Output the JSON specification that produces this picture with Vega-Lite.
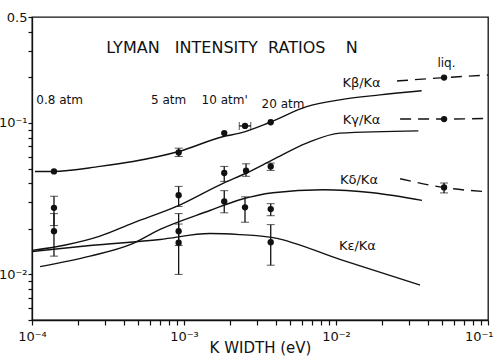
{
  "$schema": "https://vega.github.io/schema/vega-lite/v6.json",
  "width": 456,
  "height": 303,
  "autosize": "none",
  "padding": {"left": 32, "top": 17, "right": 5, "bottom": 44},
  "background": "white",
  "config": {
    "view": {"stroke": "#111", "strokeWidth": 1.3},
    "font": "DejaVu Sans",
    "axis": {"grid": false, "domainColor": "#111", "tickColor": "#111", "labelColor": "#111", "titleColor": "#111", "domainWidth": 1.3, "tickWidth": 1.2}
  },
  "datasets": {
    "curves": [
      {"s": "Kb", "x": 0.0001047, "y": 0.0478},
      {"s": "Kb", "x": 0.0001374, "y": 0.0478},
      {"s": "Kb", "x": 0.00028, "y": 0.0516},
      {"s": "Kb", "x": 0.000462, "y": 0.0556},
      {"s": "Kb", "x": 0.000922, "y": 0.0647},
      {"s": "Kb", "x": 0.00182, "y": 0.0813},
      {"s": "Kb", "x": 0.00233, "y": 0.0856},
      {"s": "Kb", "x": 0.00368, "y": 0.101},
      {"s": "Kb", "x": 0.00641, "y": 0.128},
      {"s": "Kb", "x": 0.0106, "y": 0.142},
      {"s": "Kb", "x": 0.01945, "y": 0.153},
      {"s": "Kb", "x": 0.0366, "y": 0.163},
      {"s": "Kg", "x": 0.0001, "y": 0.0144},
      {"s": "Kg", "x": 0.000169, "y": 0.0157},
      {"s": "Kg", "x": 0.00028, "y": 0.0179},
      {"s": "Kg", "x": 0.000464, "y": 0.0219},
      {"s": "Kg", "x": 0.000894, "y": 0.0281},
      {"s": "Kg", "x": 0.00182, "y": 0.0401},
      {"s": "Kg", "x": 0.00258, "y": 0.0467},
      {"s": "Kg", "x": 0.00385, "y": 0.0572},
      {"s": "Kg", "x": 0.00641, "y": 0.0735},
      {"s": "Kg", "x": 0.0106, "y": 0.0856},
      {"s": "Kg", "x": 0.0348, "y": 0.0886},
      {"s": "Kd", "x": 0.000113, "y": 0.01125},
      {"s": "Kd", "x": 0.000241, "y": 0.0132},
      {"s": "Kd", "x": 0.000442, "y": 0.0157},
      {"s": "Kd", "x": 0.000696, "y": 0.0198},
      {"s": "Kd", "x": 0.00148, "y": 0.0264},
      {"s": "Kd", "x": 0.00233, "y": 0.0311},
      {"s": "Kd", "x": 0.00385, "y": 0.0346},
      {"s": "Kd", "x": 0.0082, "y": 0.0362},
      {"s": "Kd", "x": 0.0175, "y": 0.0346},
      {"s": "Kd", "x": 0.0368, "y": 0.0308},
      {"s": "Ke", "x": 0.0001, "y": 0.01416},
      {"s": "Ke", "x": 0.000241, "y": 0.0155},
      {"s": "Ke", "x": 0.000696, "y": 0.017},
      {"s": "Ke", "x": 0.00148, "y": 0.0186},
      {"s": "Ke", "x": 0.00233, "y": 0.0183},
      {"s": "Ke", "x": 0.00385, "y": 0.0175},
      {"s": "Ke", "x": 0.0106, "y": 0.01256},
      {"s": "Ke", "x": 0.0357, "y": 0.00851}
    ],
    "dashed": [
      {"s": "Kb", "x": 0.0252, "y": 0.189},
      {"s": "Kb", "x": 0.0514, "y": 0.199},
      {"s": "Kb", "x": 0.1, "y": 0.207},
      {"s": "Kg", "x": 0.0264, "y": 0.106},
      {"s": "Kg", "x": 0.0514, "y": 0.106},
      {"s": "Kg", "x": 0.1, "y": 0.107},
      {"s": "Kd", "x": 0.0264, "y": 0.0428},
      {"s": "Kd", "x": 0.0514, "y": 0.0374},
      {"s": "Kd", "x": 0.1, "y": 0.0351}
    ],
    "pts": [
      {"s": "Kb", "x": 0.0001395, "y": 0.0478},
      {"s": "Kb", "x": 0.000922, "y": 0.0638, "lo": 0.06, "hi": 0.0681},
      {"s": "Kb", "x": 0.00184, "y": 0.0856},
      {"s": "Kb", "x": 0.00252, "y": 0.0955},
      {"s": "Kb", "x": 0.00372, "y": 0.101},
      {"s": "Kb", "x": 0.0514, "y": 0.199},
      {"s": "Kg", "x": 0.0001395, "y": 0.0275, "lo": 0.021, "hi": 0.0328},
      {"s": "Kg", "x": 0.000922, "y": 0.0333, "lo": 0.0281, "hi": 0.0381},
      {"s": "Kg", "x": 0.00184, "y": 0.0467, "lo": 0.0411, "hi": 0.0516},
      {"s": "Kg", "x": 0.00256, "y": 0.0483, "lo": 0.0444, "hi": 0.0537},
      {"s": "Kg", "x": 0.00372, "y": 0.0516, "lo": 0.0486, "hi": 0.0543},
      {"s": "Kg", "x": 0.0514, "y": 0.106},
      {"s": "Kd", "x": 0.0001395, "y": 0.0193, "lo": 0.0132, "hi": 0.0252},
      {"s": "Kd", "x": 0.000922, "y": 0.0193, "lo": 0.0155, "hi": 0.0252},
      {"s": "Kd", "x": 0.00184, "y": 0.0303, "lo": 0.0255, "hi": 0.0357},
      {"s": "Kd", "x": 0.00252, "y": 0.0277, "lo": 0.0221, "hi": 0.0325},
      {"s": "Kd", "x": 0.00372, "y": 0.027, "lo": 0.0244, "hi": 0.0293},
      {"s": "Kd", "x": 0.0514, "y": 0.0375, "lo": 0.0345, "hi": 0.0401},
      {"s": "Ke", "x": 0.000922, "y": 0.0162, "lo": 0.01, "hi": 0.0215},
      {"s": "Ke", "x": 0.00372, "y": 0.0163, "lo": 0.0115, "hi": 0.0213}
    ],
    "hbar": [
      {"y": 0.0955, "x": 0.00231, "xhi": 0.00275}
    ],
    "labels": [
      {"x": 0.000152, "y": 0.1415, "t": "0.8 atm"},
      {"x": 0.000791, "y": 0.1415, "t": "5 atm"},
      {"x": 0.00185, "y": 0.1415, "t": "10 atm'"},
      {"x": 0.00448, "y": 0.1334, "t": "20 atm"},
      {"x": 0.0533, "y": 0.248, "t": "liq."}
    ],
    "klabels": [
      {"x": 0.01472, "y": 0.184, "t": "Kβ/Kα"},
      {"x": 0.01472, "y": 0.1047, "t": "Kγ/Kα"},
      {"x": 0.01416, "y": 0.0422, "t": "Kδ/Kα"},
      {"x": 0.01383, "y": 0.0155, "t": "Kε/Kα"}
    ],
    "title": [
      {"x": 0.00207, "y": 0.311, "t": "LYMAN\u00a0\u00a0\u00a0INTENSITY\u00a0\u00a0RATIOS\u00a0\u00a0\u00a0\u00a0N"}
    ]
  },
  "layer": [
    {
      "data": {"name": "curves"},
      "mark": {"type": "line", "color": "#111", "strokeWidth": 1.4, "interpolate": "monotone"},
      "encoding": {
        "x": {"field": "x", "type": "quantitative", "title": "K WIDTH (eV)",
          "scale": {"type": "log", "domain": [0.0001, 0.1], "nice": false},
          "axis": {
            "orient": "bottom",
            "title": "K WIDTH (eV)",
            "titleFontSize": 15, "titleFontWeight": "normal", "titlePadding": -3,
            "values": [0.0001,0.0002,0.0003,0.0004,0.0005,0.0006,0.0007,0.0008,0.0009,0.001,0.002,0.003,0.004,0.005,0.006,0.007,0.008,0.009,0.01,0.02,0.03,0.04,0.05,0.06,0.07,0.08,0.09,0.1],
            "labelExpr": "datum.value == 0.0001 ? '10⁻⁴' : datum.value == 0.001 ? '10⁻³' : datum.value == 0.01 ? '10⁻²' : datum.value == 0.1 ? '10⁻¹' : ''",
            "labelFontSize": 13, "labelPadding": 5, "labelFlush": false, "labelOverlap": false,
            "labelAlign": {"condition": {"test": "datum.value == 0.1", "value": "right"}, "value": "center"},
            "labelOffset": {"condition": {"test": "datum.value == 0.1", "value": 5}, "value": 0},
            "ticks": true,
            "tickSize": 5
          }},
        "y": {"field": "y", "type": "quantitative", "title": null,
          "scale": {"type": "log", "domain": [0.005, 0.5], "nice": false},
          "axis": {
            "orient": "left",
            "title": null,
            "values": [0.005,0.006,0.007,0.008,0.009,0.01,0.02,0.03,0.04,0.05,0.06,0.07,0.08,0.09,0.1,0.2,0.3,0.4,0.5],
            "labelExpr": "datum.value == 0.5 ? '0.5' : datum.value == 0.1 ? '10⁻¹' : datum.value == 0.01 ? '10⁻²' : ''",
            "labelFontSize": 13, "labelPadding": 1, "labelFlush": false, "labelOverlap": false,
            "ticks": true,
            "tickSize": 4
          }},
        "detail": {"field": "s"}
      }
    },
    {
      "data": {"name": "dashed"},
      "mark": {"type": "line", "color": "#111", "strokeWidth": 1.4, "strokeDash": [11, 7], "interpolate": "monotone"},
      "encoding": {
        "x": {"field": "x", "type": "quantitative", "title": "K WIDTH (eV)"},
        "y": {"field": "y", "type": "quantitative", "title": null},
        "detail": {"field": "s"}
      }
    },
    {
      "data": {"name": "pts"},
      "transform": [{"filter": "isValid(datum.lo)"}],
      "mark": {"type": "errorbar", "ticks": {"size": 8, "color": "#111", "strokeWidth": 1.3}, "rule": {"color": "#111", "strokeWidth": 1.3}},
      "encoding": {
        "x": {"field": "x", "type": "quantitative", "title": "K WIDTH (eV)"},
        "y": {"field": "lo", "type": "quantitative", "title": null},
        "y2": {"field": "hi"}
      }
    },
    {
      "data": {"name": "hbar"},
      "mark": {"type": "errorbar", "ticks": {"size": 8, "color": "#111", "strokeWidth": 1.3}, "rule": {"color": "#111", "strokeWidth": 1.3}},
      "encoding": {
        "x": {"field": "x", "type": "quantitative", "title": "K WIDTH (eV)"},
        "x2": {"field": "xhi"},
        "y": {"field": "y", "type": "quantitative", "title": null}
      }
    },
    {
      "data": {"name": "pts"},
      "mark": {"type": "point", "shape": "circle", "filled": true, "color": "#111", "opacity": 1, "size": 40},
      "encoding": {
        "x": {"field": "x", "type": "quantitative", "title": "K WIDTH (eV)"},
        "y": {"field": "y", "type": "quantitative", "title": null}
      }
    },
    {
      "data": {"name": "labels"},
      "mark": {"type": "text", "color": "#111", "fontSize": 12, "align": "center", "baseline": "middle"},
      "encoding": {
        "x": {"field": "x", "type": "quantitative", "title": "K WIDTH (eV)"},
        "y": {"field": "y", "type": "quantitative", "title": null},
        "text": {"field": "t"}
      }
    },
    {
      "data": {"name": "klabels"},
      "mark": {"type": "text", "color": "#111", "fontSize": 13, "align": "center", "baseline": "middle"},
      "encoding": {
        "x": {"field": "x", "type": "quantitative", "title": "K WIDTH (eV)"},
        "y": {"field": "y", "type": "quantitative", "title": null},
        "text": {"field": "t"}
      }
    },
    {
      "data": {"name": "title"},
      "mark": {"type": "text", "color": "#111", "fontSize": 16, "align": "center", "baseline": "middle"},
      "encoding": {
        "x": {"field": "x", "type": "quantitative", "title": "K WIDTH (eV)"},
        "y": {"field": "y", "type": "quantitative", "title": null},
        "text": {"field": "t"}
      }
    }
  ]
}
